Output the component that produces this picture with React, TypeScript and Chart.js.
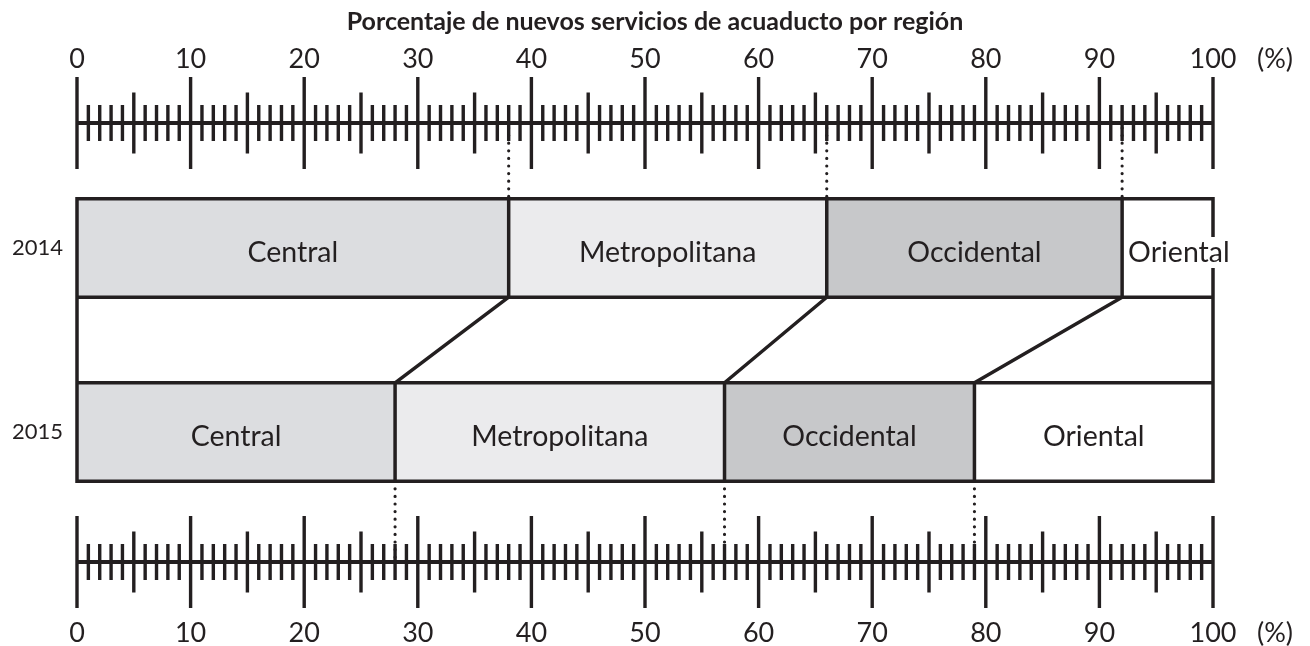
import React, { useEffect, useRef } from "react";
import { Chart, registerables } from "chart.js";

Chart.register(...registerables);

// ---------- data ----------
const years = ["2014", "2015"];
const regions = ["Central", "Metropolitana", "Occidental", "Oriental"];
const central = [38, 28];
const metropolitana = [28, 29];
const occidental = [26, 22];
const oriental = [8, 21];
const seriesValues = [central, metropolitana, occidental, oriental];
const regionColors = ["#dcdde0", "#ebebed", "#c7c8ca", "#ffffff"];
const titleText = "Porcentaje de nuevos servicios de acuaducto por región";
const unitText = "(%)";
const axisMin = 0;
const axisMax = 100;
const majorStep = 10;

// ---------- style ----------
const INK = "#231f20";
const FONT = "Lato";
const TICK_FONT_SIZE = 27;
const LABEL_FONT_SIZE = 28.5;
const TOP_TL = 81;
const BOTTOM_TL = 93;

const decorPlugin = {
  id: "rulerDecor",
  afterDatasetsDraw(chart: any) {
    const ctx: CanvasRenderingContext2D = chart.ctx;
    const xBot = chart.scales.x;
    const xTop = chart.scales.x2;
    const area = chart.chartArea;
    const metas = chart.data.datasets.map((_: any, i: number) => chart.getDatasetMeta(i));
    const el = (i: number, j: number) => metas[i].data[j] as any;

    const b0 = el(0, 0);
    const b1 = el(0, 1);
    const top0 = b0.y - b0.height / 2;
    const bot0 = b0.y + b0.height / 2;
    const top1 = b1.y - b1.height / 2;
    const bot1 = b1.y + b1.height / 2;
    const left = xBot.getPixelForValue(axisMin);
    const right = xBot.getPixelForValue(axisMax);
    const rTop = area.top - 33;
    const rBot = area.bottom + 38;

    ctx.save();
    ctx.strokeStyle = INK;
    ctx.fillStyle = INK;
    ctx.lineCap = "butt";
    ctx.lineJoin = "miter";

    // rulers
    const drawRuler = (scale: any, y: number) => {
      ctx.lineWidth = 4;
      ctx.beginPath();
      ctx.moveTo(scale.getPixelForValue(axisMin), y);
      ctx.lineTo(scale.getPixelForValue(axisMax), y);
      ctx.stroke();
      ctx.lineWidth = 3.4;
      ctx.beginPath();
      for (let v = axisMin; v <= axisMax; v++) {
        const half = v % 10 === 0 ? 46 : v % 5 === 0 ? 30.5 : 18;
        const px = scale.getPixelForValue(v);
        ctx.moveTo(px, y - half);
        ctx.lineTo(px, y + half);
      }
      ctx.stroke();
    };
    drawRuler(xTop, rTop);
    drawRuler(xBot, rBot);

    // frame
    ctx.lineWidth = 3.5;
    ctx.beginPath();
    ctx.rect(left, top0, right - left, bot1 - top0);
    ctx.moveTo(left, bot0);
    ctx.lineTo(right, bot0);
    ctx.moveTo(left, top1);
    ctx.lineTo(right, top1);
    // dividers + connectors
    for (let i = 0; i < metas.length - 1; i++) {
      const a = el(i, 0);
      const b = el(i, 1);
      ctx.moveTo(a.x, top0);
      ctx.lineTo(a.x, bot0);
      ctx.moveTo(b.x, top1);
      ctx.lineTo(b.x, bot1);
      ctx.moveTo(a.x, bot0);
      ctx.lineTo(b.x, top1);
    }
    ctx.stroke();

    // dotted guides
    ctx.save();
    ctx.setLineDash([0, 7.6]);
    ctx.lineCap = "round";
    ctx.lineWidth = 3.2;
    ctx.beginPath();
    for (let i = 0; i < metas.length - 1; i++) {
      const a = el(i, 0);
      const b = el(i, 1);
      ctx.moveTo(a.x, rTop + 5);
      ctx.lineTo(a.x, top0);
      ctx.moveTo(b.x, bot1);
      ctx.lineTo(b.x, rBot);
    }
    ctx.stroke();
    ctx.restore();

    // segment labels
    ctx.font = `${LABEL_FONT_SIZE}px ${FONT}`;
    ctx.textBaseline = "middle";
    for (let i = 0; i < metas.length; i++) {
      for (let j = 0; j < years.length; j++) {
        const e = el(i, j);
        const segL = Math.min(e.base, e.x);
        const segR = Math.max(e.base, e.x);
        const label = chart.data.datasets[i].label as string;
        const w = ctx.measureText(label).width;
        const y = e.y + 4.5;
        let tx: number;
        if (w + 12 > segR - segL) {
          tx = segL + 6;
          ctx.fillStyle = regionColors[i];
          ctx.fillRect(tx - 2, y - 15.5, w + 4, 31);
          ctx.textAlign = "left";
        } else {
          tx = (segL + segR) / 2;
          ctx.textAlign = "center";
        }
        ctx.fillStyle = INK;
        ctx.fillText(label, tx, y);
      }
    }

    // unit labels
    ctx.font = `${TICK_FONT_SIZE}px ${FONT}`;
    ctx.textAlign = "center";
    const lh = TICK_FONT_SIZE * 1.2;
    ctx.fillText(unitText, xTop.getPixelForValue(axisMax) + 62, xTop.bottom - TOP_TL - lh / 2);
    ctx.fillText(unitText, xBot.getPixelForValue(axisMax) + 62, xBot.top + BOTTOM_TL + lh / 2);
    ctx.restore();
  },
};

export default function App() {
  const canvasRef = useRef<HTMLCanvasElement | null>(null);

  useEffect(() => {
    document.body.style.margin = "0";
    const canvas = canvasRef.current;
    if (!canvas) return;
    Chart.defaults.font.family = FONT;
    Chart.defaults.color = INK;

    const chart = new Chart(canvas, {
      type: "bar",
      data: {
        labels: years,
        datasets: regions.map((r, i) => ({
          label: r,
          data: seriesValues[i],
          backgroundColor: regionColors[i],
          borderWidth: 0,
          barPercentage: 0.535,
          categoryPercentage: 1,
          xAxisID: "x",
          yAxisID: "y",
        })),
      },
      options: {
        indexAxis: "y",
        responsive: false,
        animation: false,
        layout: { padding: 0 },
        plugins: {
          legend: { display: false },
          tooltip: { enabled: false },
          title: {
            display: true,
            text: titleText,
            color: INK,
            font: { family: FONT, size: 25, weight: "bold" },
            padding: { top: 7, bottom: 0 },
          },
        },
        scales: {
          x: {
            type: "linear",
            position: "bottom",
            min: axisMin,
            max: axisMax,
            stacked: true,
            grid: { display: false, drawTicks: true, tickLength: BOTTOM_TL },
            border: { display: false },
            ticks: {
              stepSize: majorStep,
              autoSkip: false,
              maxRotation: 0,
              padding: 0,
              color: INK,
              font: { family: FONT, size: TICK_FONT_SIZE },
            },
            afterFit: (s: any) => {
              s.height = 122;
            },
          },
          x2: {
            type: "linear",
            position: "top",
            min: axisMin,
            max: axisMax,
            grid: { display: false, drawTicks: true, tickLength: TOP_TL },
            border: { display: false },
            ticks: {
              stepSize: majorStep,
              autoSkip: false,
              maxRotation: 0,
              padding: 0,
              color: INK,
              font: { family: FONT, size: TICK_FONT_SIZE },
            },
            afterFit: (s: any) => {
              s.height = 156 - 37;
            },
          },
          y: {
            type: "category",
            stacked: true,
            grid: { display: false, drawTicks: false },
            border: { display: false },
            ticks: {
              padding: 14,
              color: INK,
              font: { family: FONT, size: 22 },
            },
            afterFit: (s: any) => {
              s.width = 77;
            },
          },
          yRight: {
            type: "category",
            position: "right",
            display: true,
            grid: { display: false, drawTicks: false },
            border: { display: false },
            ticks: { display: false },
            afterFit: (s: any) => {
              s.width = 97;
            },
          },
        },
      } as any,
      plugins: [decorPlugin],
    });
    return () => chart.destroy();
  }, []);

  return (
    <div style={{ width: 1310, height: 646 }}>
      <canvas ref={canvasRef} width={1310} height={646} style={{ display: "block" }} />
    </div>
  );
}
